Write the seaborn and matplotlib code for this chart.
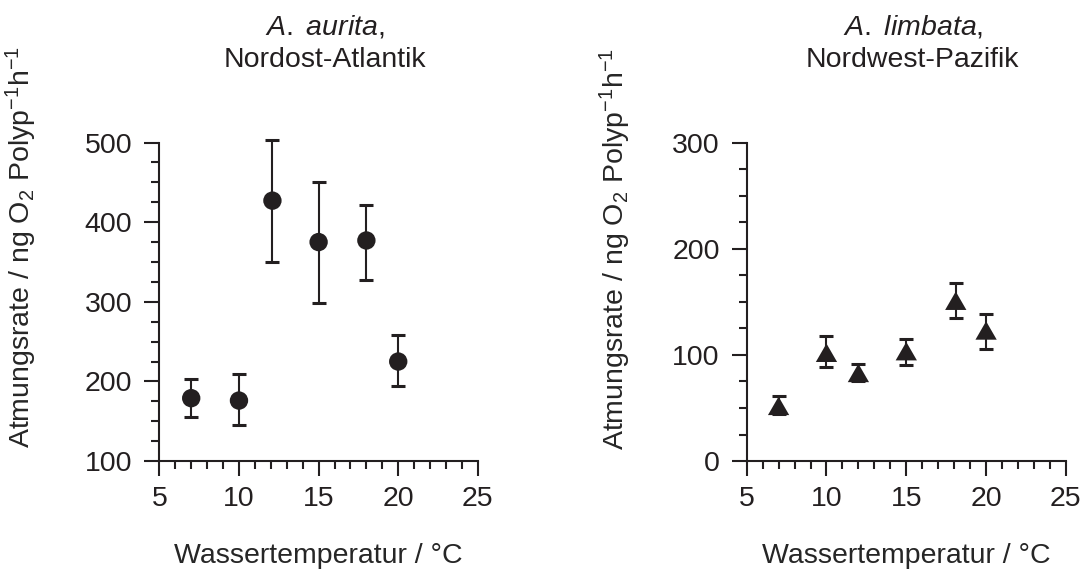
import numpy as np
import pandas as pd
import seaborn as sns
from matplotlib import pyplot as plt
from matplotlib.ticker import MultipleLocator

# A. aurita, Nordost-Atlantik
temp_aurita = [7, 10, 12.1, 15, 18, 20]
rate_aurita = [179, 176, 427, 375, 377, 225]
upper_aurita = [203, 209, 503, 451, 422, 258]
lower_aurita = [155, 145, 350, 298, 327, 194]

# A. limbata, Nordwest-Pazifik
temp_limbata = [7, 10, 12, 15, 18.1, 20]
rate_limbata = [52, 102, 83, 103.5, 151, 123]
upper_limbata = [61.3, 118, 91.8, 114.8, 167.6, 138.4]
lower_limbata = [44, 89, 75, 90.3, 134.6, 105.4]

ink = "#231f20"

sns.set_style("ticks")
plt.rcParams['font.family'] = ['Liberation Sans', 'DejaVu Sans']
plt.rcParams['mathtext.fontset'] = 'custom'
plt.rcParams['mathtext.rm'] = 'Liberation Sans'
plt.rcParams['mathtext.it'] = 'Liberation Sans:italic'
plt.rcParams['text.color'] = ink
plt.rcParams['axes.edgecolor'] = ink
plt.rcParams['xtick.color'] = ink
plt.rcParams['ytick.color'] = ink

fig = plt.figure(figsize=(10.87, 5.73), dpi=100)
ax1 = fig.add_axes([0.1466, 0.1953, 0.2930, 0.5560])
ax2 = fig.add_axes([0.6869, 0.1953, 0.2937, 0.5560])

df1 = pd.DataFrame({'temp': temp_aurita, 'rate': rate_aurita})
df2 = pd.DataFrame({'temp': temp_limbata, 'rate': rate_limbata})

tri = [(-1, -0.866), (1, -0.866), (0, 0.866)]

panels = [
    (ax1, df1, upper_aurita, lower_aurita, 'o', 175, (100, 500), 100,
     r"$\mathit{A.\ aurita}$," + "\nNordost-Atlantik", -0.3768, 0.040),
    (ax2, df2, upper_limbata, lower_limbata, tri, 235, (0, 300), 100,
     r"$\mathit{A.\ limbata}$," + "\nNordwest-Pazifik", -0.3567, 0.035),
]

for ax, d, up, lo, mk, size, ylim, ystep, title, ylx, yly in panels:
    err = [d['rate'] - np.array(lo), np.array(up) - d['rate']]
    eb = ax.errorbar(d['temp'], d['rate'], yerr=err, fmt='none', ecolor=ink,
                     elinewidth=1.5, capsize=5.2, capthick=2.2, zorder=1)
    for art in eb.get_children():
        art.set_clip_on(False)
    sns.scatterplot(data=d, x='temp', y='rate', ax=ax, marker=mk, s=size,
                    color=ink, edgecolor='none', linewidth=0, zorder=3,
                    clip_on=False)
    ax.set_xlim(5, 25)
    ax.set_ylim(*ylim)
    ax.set_xticks(range(5, 26, 5))
    ax.xaxis.set_minor_locator(MultipleLocator(1))
    ax.yaxis.set_major_locator(MultipleLocator(ystep))
    ax.yaxis.set_minor_locator(MultipleLocator(25))
    ax.tick_params(which='major', direction='out', length=10.8, width=1.5,
                   labelsize=20.5)
    ax.tick_params(which='minor', direction='out', length=6, width=1.5)
    ax.tick_params(axis='y', which='major', pad=8.6)
    ax.tick_params(axis='x', which='major', pad=7.3)
    for sp in ['left', 'bottom']:
        ax.spines[sp].set_linewidth(1.5)
    sns.despine(ax=ax)

    ax.set_xlabel("Wassertemperatur / °C", fontsize=20.5)
    ax.xaxis.set_label_coords(0.5, -0.2586)
    ax.set_ylabel(r"Atmungsrate / ng O$_2$ Polyp$^{-1}$h$^{-1}$",
                  fontsize=20.5, loc='bottom')
    ax.yaxis.set_label_coords(ylx, yly)
    ax.text(0.52, 1.219, title, transform=ax.transAxes, ha='center',
            va='bottom', fontsize=20.5, linespacing=1.3)

fig.savefig("out.png", dpi=100)
